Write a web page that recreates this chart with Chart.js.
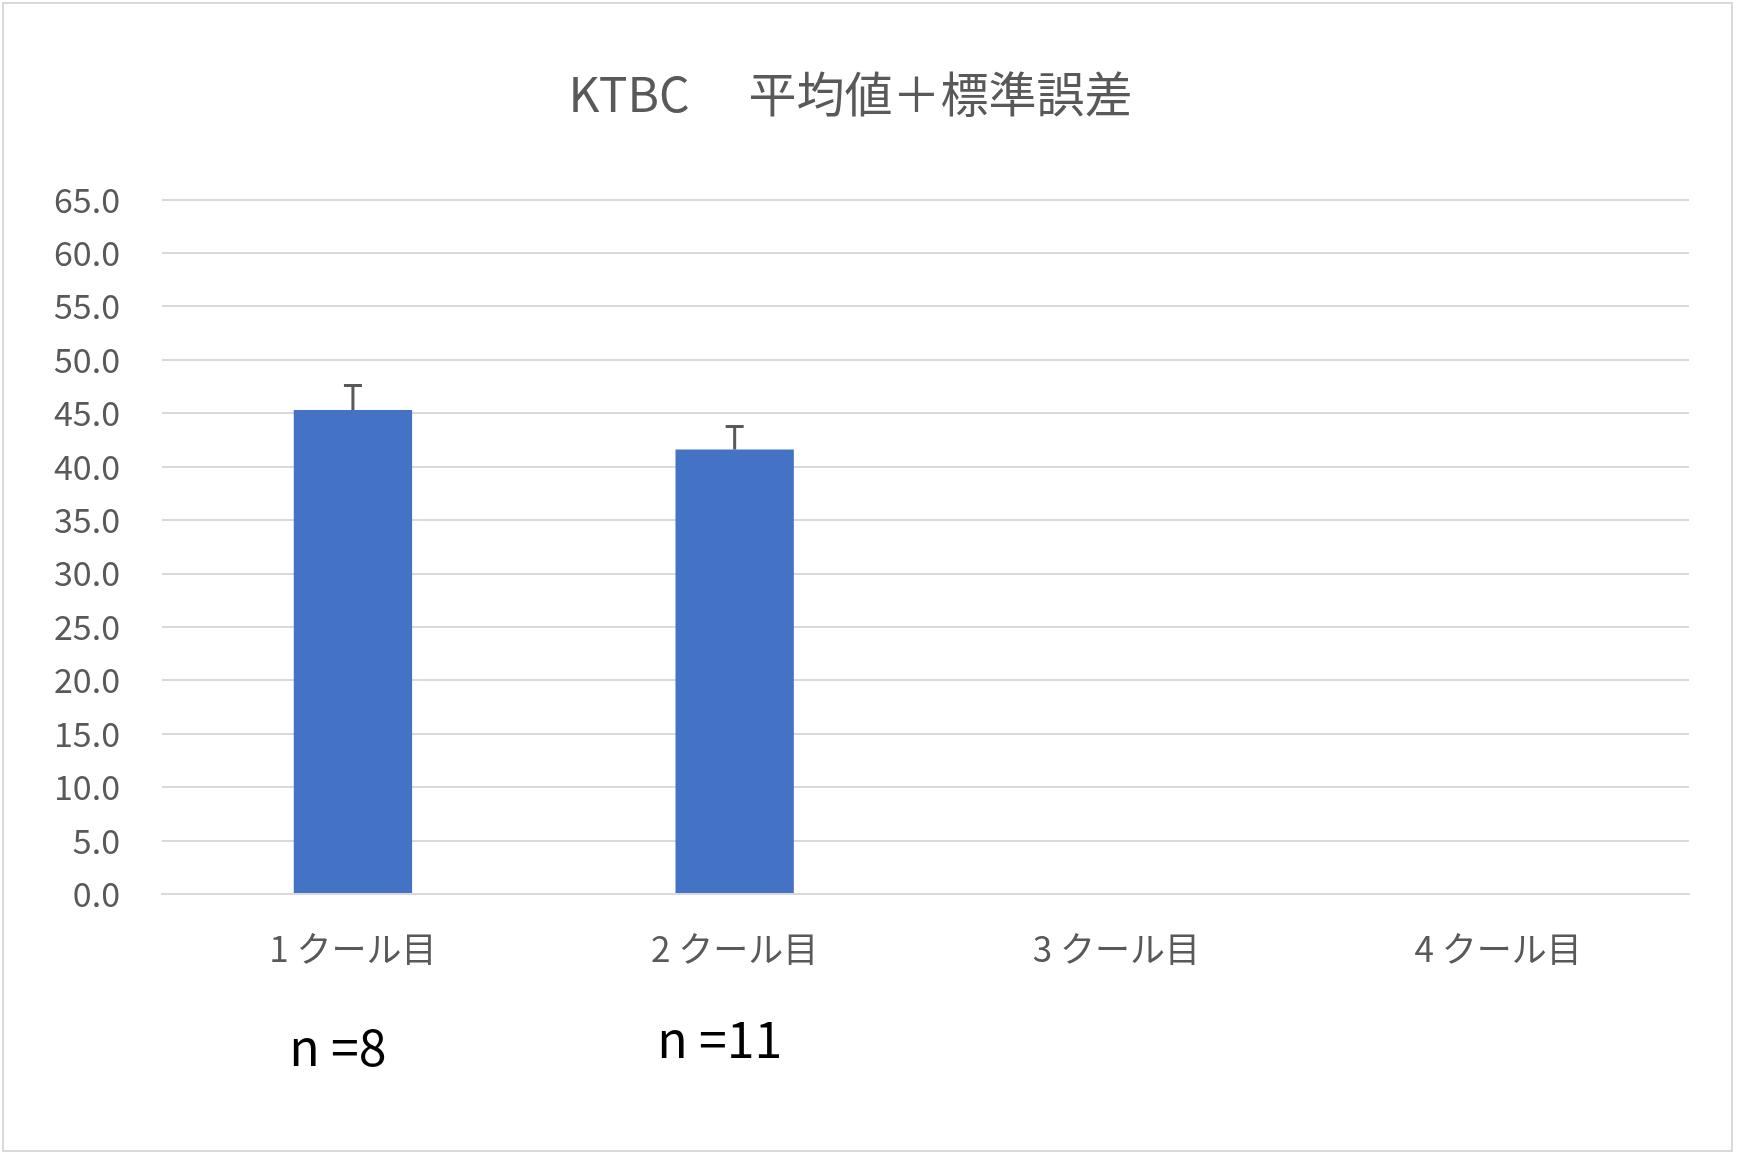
<!DOCTYPE html>
<html><head><meta charset="utf-8">
<script src="https://cdn.jsdelivr.net/npm/chart.js@4"></script>
<style>html,body{margin:0;padding:0;background:#fff}
#wrap{position:absolute;left:2px;top:2px;width:1731px;height:1150px;border:2px solid #d9d9d9;box-sizing:border-box}
</style></head><body>
<div id="wrap"><canvas id="c"></canvas></div>
<script>
const categories = ['1 クール目','2 クール目','3 クール目','4 クール目'];
const means = [45.3, 41.6, null, null];
const errors = [2.3, 2.15, null, null];
const nLabels = ['n =8','n =11','',''];
const nOffsets = [0, -8, 0, 0];
const yTicks = {min:0, max:65, step:5};
const FONT = '"Noto Sans CJK JP","Noto Sans",sans-serif';

const errPlugin = {id:'err', afterDatasetsDraw(ch){
  const ctx=ch.ctx, x=ch.scales.x, y=ch.scales.y;
  ctx.save(); ctx.strokeStyle='#595959'; ctx.lineWidth=3;
  means.forEach((m,i)=>{ if(m==null) return;
    const px=x.getPixelForValue(i), t=y.getPixelForValue(m+errors[i]), b=y.getPixelForValue(m);
    ctx.beginPath(); ctx.moveTo(px,b); ctx.lineTo(px,t); ctx.moveTo(px-9,t); ctx.lineTo(px+9,t); ctx.stroke();
  });
  ctx.fillStyle='#000'; ctx.font='50px '+FONT; ctx.textAlign='center'; ctx.textBaseline='middle';
  nLabels.forEach((s,i)=>{ if(!s) return; ctx.fillText(s, x.getPixelForValue(i)-15, 1043+nOffsets[i]); });
  ctx.restore();
}};

new Chart(document.getElementById('c'), {
  type:'bar',
  data:{labels:categories, datasets:[{data:means, backgroundColor:'#4472c4', barPercentage:0.31, categoryPercentage:1}]},
  options:{responsive:true, maintainAspectRatio:false, animation:false,
    layout:{padding:{left:8,right:42,top:20,bottom:154}},
    plugins:{legend:{display:false}, tooltip:{enabled:false},
      title:{display:true, text:'KTBC　 平均値＋標準誤差', color:'#595959', font:{family:FONT,size:48,weight:'normal'}, padding:{top:41,bottom:77}}},
    scales:{
      x:{grid:{display:false}, border:{color:'#d9d9d9',width:2},
        ticks:{color:'#595959', font:{family:FONT,size:35}, padding:26}},
      y:{min:yTicks.min, max:yTicks.max, grid:{color:'#d9d9d9',lineWidth:2,drawTicks:false}, border:{display:false},
        ticks:{stepSize:yTicks.step, color:'#595959', font:{family:FONT,size:34}, padding:42, callback:v=>v.toFixed(1)}}
    }},
  plugins:[errPlugin]
});
</script></body></html>
